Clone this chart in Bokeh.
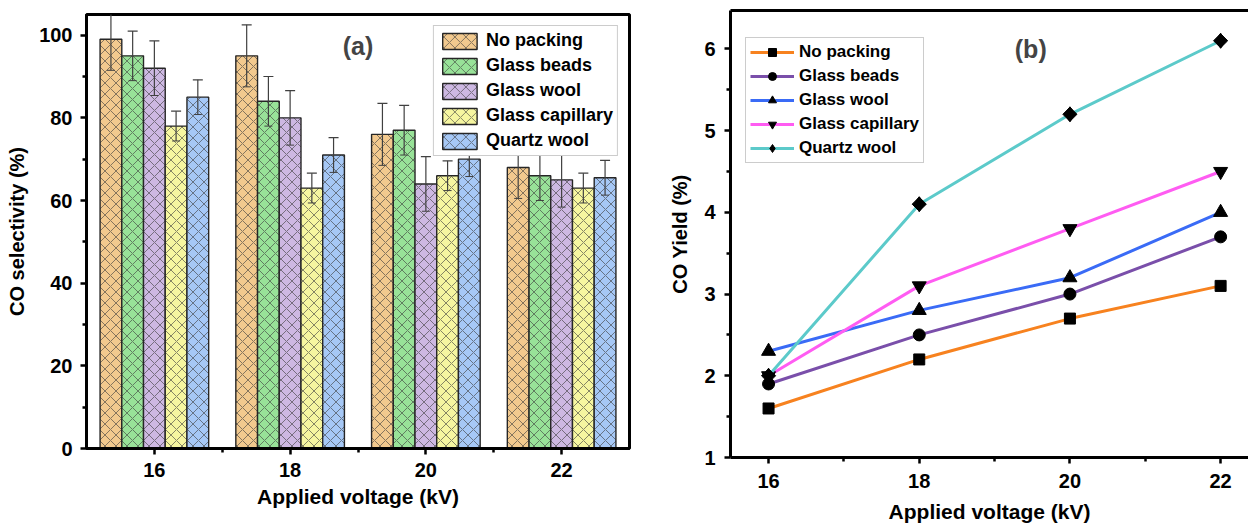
import math
from bokeh.plotting import figure
from bokeh.layouts import row, column
from bokeh.models import (Range1d, FixedTicker, Whisker, TeeHead, ColumnDataSource,
                          Label, LinearAxis)
from bokeh.embed import file_html
from bokeh.resources import INLINE

# ---- data -------------------------------------------------------------
voltages = [16, 18, 20, 22]
packings = ["No packing", "Glass beads", "Glass wool", "Glass capillary", "Quartz wool"]

# CO selectivity (%) and its error
sel_no_packing = [99, 95, 76, 68]
sel_glass_beads = [95, 84, 77, 66]
sel_glass_wool = [92, 80, 64, 65]
sel_glass_capillary = [78, 63, 66, 63]
sel_quartz_wool = [85, 71, 70, 65.5]

err_no_packing = [7.5, 7.5, 7.5, 7.5]
err_glass_beads = [6.0, 6.0, 6.0, 6.0]
err_glass_wool = [6.6, 6.6, 6.6, 6.6]
err_glass_capillary = [3.6, 3.6, 3.6, 3.6]
err_quartz_wool = [4.2, 4.2, 4.2, 4.2]

# CO yield (%)
yield_no_packing = [1.6, 2.2, 2.7, 3.1]
yield_glass_beads = [1.9, 2.5, 3.0, 3.7]
yield_glass_wool = [2.3, 2.8, 3.2, 4.0]
yield_glass_capillary = [2.0, 3.1, 3.8, 4.5]
yield_quartz_wool = [2.0, 4.1, 5.2, 6.1]

selectivity = [sel_no_packing, sel_glass_beads, sel_glass_wool, sel_glass_capillary, sel_quartz_wool]
sel_errors = [err_no_packing, err_glass_beads, err_glass_wool, err_glass_capillary, err_quartz_wool]
yields = [yield_no_packing, yield_glass_beads, yield_glass_wool, yield_glass_capillary, yield_quartz_wool]

# ---- styles -----------------------------------------------------------
FONT = "Liberation Sans"
bar_fills = ["#F2C98E", "#98E298", "#CDB8E2", "#F6F6A0", "#A6C8F6"]
line_colors = ["#F7821F", "#7A4FAA", "#3A6BF6", "#FF5CF2", "#5CCACA"]
marker_specs = [("square", 11), ("circle", 12), ("triangle", 14),
                ("inverted_triangle", 14), ("diamond", 15)]
bar_w = 0.32


def style_axis(ax, ticks, minor):
    ax.ticker = FixedTicker(ticks=ticks, minor_ticks=minor)
    ax.axis_line_width = 3
    ax.axis_line_color = "black"
    ax.major_tick_line_width = 2.5
    ax.major_tick_in = 0
    ax.major_tick_out = 6
    ax.minor_tick_line_width = 2.5
    ax.minor_tick_in = 0
    ax.minor_tick_out = 4
    ax.major_label_text_font = FONT
    ax.major_label_text_font_style = "bold"
    ax.major_label_text_font_size = "20px"
    ax.major_label_text_color = "black"
    ax.axis_label_text_font = FONT
    ax.axis_label_text_font_style = "bold"
    ax.axis_label_text_font_size = "20px"
    ax.axis_label_text_color = "black"


# ---- (a) selectivity bars --------------------------------------------
p1 = figure(width=660, height=526, x_range=Range1d(15, 23), y_range=Range1d(0, 105),
            output_backend="svg", toolbar_location=None,
            min_border_left=86, min_border_right=31, min_border_top=14, min_border_bottom=78)
p1.xgrid.visible = False
p1.ygrid.visible = False
p1.outline_line_color = "black"
p1.outline_line_width = 3
p1.outline_line_alpha = 1.0

sources = []
for i, (name, vals, errs, fill) in enumerate(zip(packings, selectivity, sel_errors, bar_fills)):
    xs = [v + (i - 2) * bar_w for v in voltages]
    src = ColumnDataSource(dict(
        x=xs, top=vals,
        upper=[a + e for a, e in zip(vals, errs)],
        lower=[a - e for a, e in zip(vals, errs)],
    ))
    sources.append(src)
    p1.vbar(x="x", top="top", bottom=0, width=bar_w, source=src,
            fill_color=fill, line_color="#262626", line_width=1.4,
            hatch_pattern="x", hatch_color="#3a3a3a", hatch_alpha=0.6,
            hatch_scale=11, hatch_weight=1, legend_label=name)

for src in sources:
    w = Whisker(base="x", upper="upper", lower="lower", source=src,
                line_color="#404040", line_width=1.2, level="glyph",
                upper_head=TeeHead(size=10, line_color="#404040", line_width=1.2),
                lower_head=TeeHead(size=8, line_color="#404040", line_width=1.0))
    p1.add_layout(w)

xa1, ya1 = p1.below[0], p1.left[0]
style_axis(xa1, voltages, [17, 19, 21])
style_axis(ya1, [0, 20, 40, 60, 80, 100], [10, 30, 50, 70, 90])
xa1.axis_label = "Applied voltage (kV)"
ya1.axis_label = "CO selectivity (%)"
xa1.axis_label_text_font_size = "21px"
xa1.major_label_standoff = 8
xa1.axis_label_standoff = 5
ya1.major_label_standoff = 8
ya1.axis_label_standoff = 8

lg1 = p1.legend[0]
lg1.location = "top_right"
lg1.margin = 11
lg1.padding = 4
lg1.spacing = 4
lg1.glyph_width = 43
lg1.glyph_height = 20
lg1.label_height = 19
lg1.label_standoff = 5
lg1.label_text_font = FONT
lg1.label_text_font_style = "bold"
lg1.label_text_font_size = "18px"
lg1.label_text_color = "black"
lg1.border_line_color = "#9a9a9a"
lg1.border_line_width = 1.2
lg1.background_fill_alpha = 1.0

p1.add_layout(Label(x=19.0, y=97.5, text="(a)", text_font=FONT, text_font_style="bold",
                    text_font_size="25px", text_align="center", text_baseline="middle"))

# ---- (b) CO yield lines ----------------------------------------------
p2 = figure(width=588, height=526, x_range=Range1d(15.495, 22.37), y_range=Range1d(1, 6.47),
            output_backend="svg", toolbar_location=None,
            min_border_left=70, min_border_right=0, min_border_top=10, min_border_bottom=69)
p2.xgrid.visible = False
p2.ygrid.visible = False
p2.outline_line_color = None

for name, vals, color, (mk, sz) in zip(packings, yields, line_colors, marker_specs):
    p2.line(voltages, vals, line_color=color, line_width=3, legend_label=name)
    p2.scatter(voltages, vals, marker=mk, size=sz, fill_color="black",
               line_color="black", legend_label=name)
    if mk == "diamond":
        # widen the diamond symbol to an even, square-on-corner shape
        p2.scatter(voltages, vals, marker="square", size=10, angle=math.pi / 4,
                   fill_color="black", line_color="black")

xa2, ya2 = p2.below[0], p2.left[0]
style_axis(xa2, voltages, [17, 19, 21])
style_axis(ya2, [1, 2, 3, 4, 5, 6], [1.5, 2.5, 3.5, 4.5, 5.5])
xa2.axis_label = "Applied voltage (kV)"
ya2.axis_label = "CO Yield (%)"
xa2.axis_label_text_font_size = "21px"
xa2.major_label_standoff = 10
xa2.axis_label_standoff = 9
ya2.major_label_standoff = 9
ya2.axis_label_standoff = 10

# top frame line (the right side stays open)
top_axis = LinearAxis(ticker=FixedTicker(ticks=[]), axis_line_width=3, axis_line_color="black",
                      major_tick_out=0, major_tick_in=0, minor_tick_out=0, minor_tick_in=0,
                      major_label_standoff=0, major_label_text_font_size="0px")
p2.add_layout(top_axis, "above")

lg2 = p2.legend[0]
lg2.location = (15, 294)
lg2.margin = 0
lg2.padding = 4
lg2.spacing = 4
lg2.glyph_width = 44
lg2.glyph_height = 20
lg2.label_height = 20
lg2.label_standoff = 5
lg2.label_text_font = FONT
lg2.label_text_font_style = "bold"
lg2.label_text_font_size = "17px"
lg2.label_text_color = "black"
lg2.border_line_color = "#9a9a9a"
lg2.border_line_width = 1.2

p2.add_layout(Label(x=19.48, y=6.0, text="(b)", text_font=FONT, text_font_style="bold",
                    text_font_size="25px", text_align="center", text_baseline="middle"))

layout = row(column(p1), column(p2))
open("out.html", "w").write(file_html(layout, INLINE))
